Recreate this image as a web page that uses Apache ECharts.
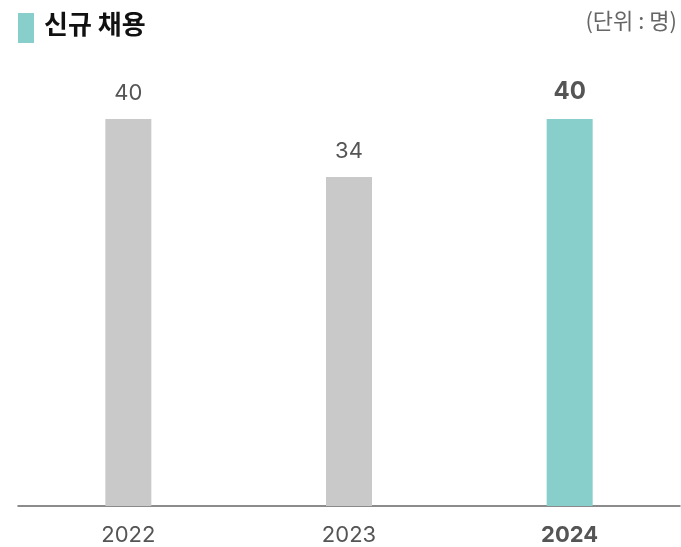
<!DOCTYPE html>
<html>
<head>
<meta charset="utf-8">
<script src="https://cdn.jsdelivr.net/npm/echarts@6/dist/echarts.min.js"></script>
<style>
  html, body { margin: 0; padding: 0; background: #fff; }
  #chart { width: 681px; height: 547px; }
</style>
</head>
<body>
<div id="chart"></div>
<script>
const years = ['2022', '2023', '2024']
const hires = [40, 34, 40]
const barColors = ['#c8c9c8', '#c8c9c8', '#88cecb']

const font = 'Inter, "Noto Sans CJK KR", "Noto Sans", sans-serif'
const krFont = '"Noto Sans CJK KR", sans-serif'

const chart = echarts.init(document.getElementById('chart'))

const option = {
  animation: false,
  textStyle: { fontFamily: font },
  graphic: [
    {
      type: 'rect',
      left: 18, top: 13,
      shape: { width: 16, height: 30 },
      style: { fill: '#88cecb' }
    },
    {
      type: 'text',
      left: 44, top: 11,
      style: { text: '신규 채용', font: 'bold 26px ' + krFont, fill: '#111' }
    },
    {
      type: 'text',
      right: 4, top: 10,
      style: { text: '(단위 : 명)', font: '22px ' + krFont, fill: '#666' }
    }
  ],
  grid: { left: 18, right: 1, top: 119, bottom: 41 },
  xAxis: {
    type: 'category',
    data: years,
    axisTick: { show: false },
    axisLine: { lineStyle: { color: '#666', width: 1.5 } },
    axisLabel: {
      margin: 18,
      fontSize: 22,
      color: '#555',
      formatter: (v, i) => i === years.length - 1 ? '{b|' + v + '}' : v,
      rich: { b: { fontSize: 22, fontWeight: 'bold', color: '#555' } }
    }
  },
  yAxis: {
    type: 'value',
    min: 0,
    max: 40,
    show: false,
    splitLine: { show: false }
  },
  series: [
    {
      type: 'bar',
      barWidth: 46,
      data: hires.map((v, i) => ({
        value: v,
        itemStyle: { color: barColors[i] },
        label: i === hires.length - 1 ? { fontWeight: 'bold', fontSize: 24 } : {}
      })),
      label: {
        show: true,
        position: 'top',
        distance: 15,
        fontSize: 22,
        color: '#555'
      }
    }
  ]
}

chart.setOption(option)
</script>
</body>
</html>
